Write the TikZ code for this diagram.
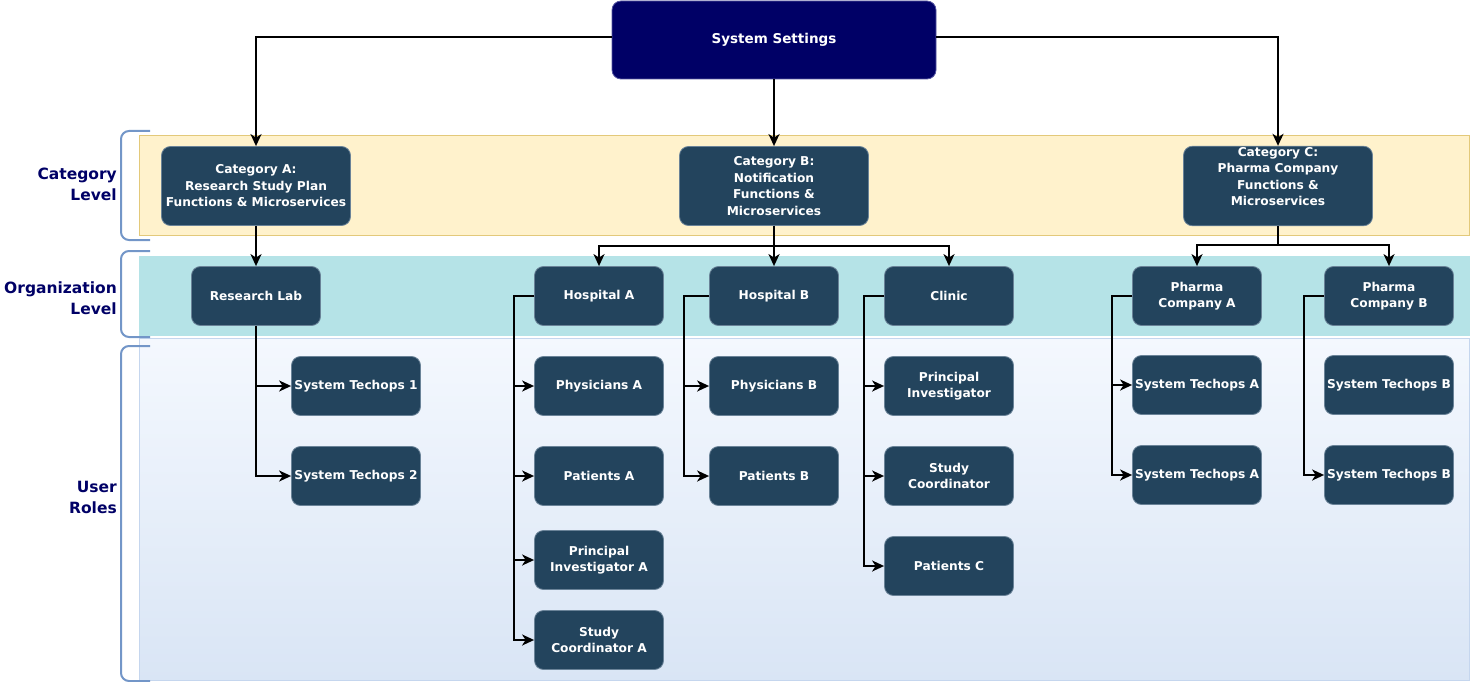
\documentclass[tikz,border=0pt]{standalone}
\usepackage{fontspec}
\setmainfont{DejaVu Sans}
\usetikzlibrary{arrows.meta}
\definecolor{navy}{HTML}{000066}
\definecolor{navyline}{HTML}{5555A0}
\definecolor{slate}{HTML}{23445D}
\definecolor{slateline}{HTML}{6A8398}
\definecolor{catfill}{HTML}{FFF2CC}
\definecolor{catline}{HTML}{E3C97A}
\definecolor{orgfill}{HTML}{B5E3E7}
\definecolor{usertop}{HTML}{F4F8FE}
\definecolor{userbot}{HTML}{D9E5F5}
\definecolor{userline}{HTML}{C5D6EE}
\definecolor{braceblue}{HTML}{7396C8}
\begin{document}
\begin{tikzpicture}[x=1pt,y=-1pt]
        \tikzstyle{role}=[rectangle,rounded corners=9pt,draw=slateline,line width=0.8pt,fill=slate,text=white,font=\bfseries\fontsize{12.2}{16.5}\selectfont,align=center,minimum width=129pt,minimum height=59pt,inner sep=1pt]
        \tikzstyle{category}=[role,minimum width=189pt,minimum height=79pt]
        \tikzstyle{edge}=[draw,line width=2pt,-{Stealth[length=12pt,width=11pt,inset=3.5pt]}]
        \tikzstyle{level}=[anchor=east,align=right,text=navy,inner sep=0pt,font=\bfseries\fontsize{15.5}{21}\selectfont]
        \tikzstyle{brace}=[draw=braceblue,line width=2pt,rounded corners=8pt]
        \useasboundingbox (0,0) rectangle (1470,682);
       \begin{scope}
         % bands
         \filldraw[fill=catfill,draw=catline] (139.5,135.5) rectangle (1469.5,235.5);
         \fill[orgfill] (139,256) rectangle (1470,336);
         \shadedraw[top color=usertop,bottom color=userbot,draw=userline] (139.5,338.5) rectangle (1469.5,680.5);
         \draw[brace] (150,131) -- (121,131) -- (121,240) -- (150,240);
         \draw[brace] (150,251) -- (121,251) -- (121,337) -- (150,337);
         \draw[brace] (150,346) -- (121,346) -- (121,681) -- (150,681);
         \node [level] (lblcat) at (117,184) {Category\\Level};
         \node [level] (lblorg) at (117,298) {Organization\\Level};
         \node [level] (lbluser) at (117,497) {User\\Roles};

         \node [role,fill=navy,draw=navyline,minimum width=324pt,minimum height=78pt,font=\bfseries\fontsize{13.5}{16}\selectfont] (sys) at (774,40) {System Settings};

         \node [category] (catA) at (256,186) {Category A:\\Research Study Plan\\Functions \& Microservices};
         \node [category] (catB) at (774,186) {Category B:\\Notification\\Functions \&\\Microservices};
         \node [category,text depth=19pt] (catC) at (1278,186) {Category C:\\Pharma Company\\Functions \&\\Microservices};

         \node [role] (lab) at (256,296) {Research Lab};
         \node [role] (hospA) at (599,296) {Hospital A};
         \node [role] (hospB) at (774,296) {Hospital B};
         \node [role] (clinic) at (949,296) {Clinic};
         \node [role] (phaA) at (1197,296) {Pharma\\Company A};
         \node [role] (phaB) at (1389,296) {Pharma\\Company B};

         \node [role] (tech1) at (356,386) {System Techops 1};
         \node [role] (tech2) at (356,476) {System Techops 2};
         \node [role] (physA) at (599,386) {Physicians A};
         \node [role] (patA) at (599,476) {Patients A};
         \node [role] (piA) at (599,560) {Principal\\Investigator A};
         \node [role] (scA) at (599,640) {Study\\Coordinator A};
         \node [role] (physB) at (774,386) {Physicians B};
         \node [role] (patB) at (774,476) {Patients B};
         \node [role] (pi) at (949,386) {Principal\\Investigator};
         \node [role] (sc) at (949,476) {Study\\Coordinator};
         \node [role] (patC) at (949,566) {Patients C};
         \node [role] (techA1) at (1197,385) {System Techops A};
         \node [role] (techA2) at (1197,475) {System Techops A};
         \node [role] (techB1) at (1389,385) {System Techops B};
         \node [role] (techB2) at (1389,475) {System Techops B};

         \coordinate (busB) at (774,246);
         \coordinate (busC) at (1278,245);
         \coordinate (spineA) at (514,296);
         \coordinate (spineB) at (684,296);
         \coordinate (spineC) at (864,296);
         \coordinate (spinePA) at (1112,296);
         \coordinate (spinePB) at (1304,296);

         \path[edge] ([yshift=3pt]sys.west) -| (catA.north);
         \path[edge] ([yshift=3pt]sys.east) -| (catC.north);
         \path[edge] (sys) -- (catB);
         \path[edge] (catA) -- (lab);
         \path[edge] (catB.south) -- (busB) -| (hospA.north);
         \path[edge] (catB.south) -- (hospB.north);
         \path[edge] (catB.south) -- (busB) -| (clinic.north);
         \path[edge] (catC.south) -- (busC) -| (phaA.north);
         \path[edge] (catC.south) -- (busC) -| (phaB.north);

         \path[edge] (lab.south) |- (tech1.west);
         \path[edge] (lab.south) |- (tech2.west);
         \foreach \c in {physA,patA,piA,scA}
           \path[edge] (hospA.west) -- (spineA) |- (\c.west);
         \foreach \c in {physB,patB}
           \path[edge] (hospB.west) -- (spineB) |- (\c.west);
         \foreach \c in {pi,sc,patC}
           \path[edge] (clinic.west) -- (spineC) |- (\c.west);
         \foreach \c in {techA1,techA2}
           \path[edge] (phaA.west) -- (spinePA) |- (\c.west);
         \path[edge] (phaB.west) -- (spinePB) |- (techB2.west);
        \end{scope}
\end{tikzpicture}
\end{document}
